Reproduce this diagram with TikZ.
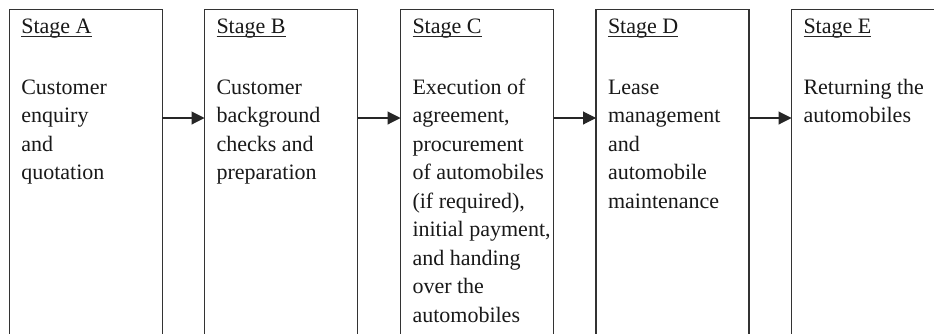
\documentclass[tikz,border=0pt]{standalone}
\usepackage{fontspec}
\setmainfont{Liberation Serif}
\usetikzlibrary{arrows.meta}
\begin{document}
\begin{tikzpicture}[x=0.75pt,y=-0.75pt,
  stagebox/.style={rectangle,draw=none,minimum width=153*0.75pt,minimum height=326*0.75pt,inner sep=0pt,outer sep=0pt},
  boxline/.style={draw=black!80,line width=0.8pt},
  stagetitle/.style={anchor=base west,inner sep=0pt,outer sep=0pt,text=black!90,font=\fontsize{16.5}{21.4}\selectfont},
  stagetext/.style={anchor=base west,inner sep=0pt,outer sep=0pt,align=left,text=black!90,font=\fontsize{16.5}{21.375}\selectfont},
  flow/.style={draw=black!85,line width=0.8pt,-{Triangle[length=9.75pt,width=9.75pt]}},
  uline/.style={draw=black!85,line width=0.6pt}
]
\clip (0,0) rectangle (934,333);
\useasboundingbox (0,0) rectangle (934,333);
\fill[white] (0,0) rectangle (934,333);
\coordinate (ya) at (0,118);
% boxes (open at the bottom)
\foreach \n/\x in {a/9.3,b/204.5,c/400.5,d/596,e/791.5}{
  \node[stagebox] (\n) at (\x+76.5,9.3+163) {};
  \draw[boxline] (\n.south west) -- (\n.north west) -- (\n.north east) -- (\n.south east);
}
% titles
\foreach \n/\l in {a/A,b/B,c/C,d/D,e/E}{
  \node[stagetitle] (t\n) at ([xshift=12*0.75pt,yshift=-24*0.75pt]\n.north west) {Stage \l};
  \draw[uline] ([yshift=-3*0.75pt]t\n.base west) -- ([yshift=-3*0.75pt]t\n.base east);
}
% body texts (anchor = baseline of the last line)
\node[stagetext] (xa) at ([xshift=12*0.75pt,yshift=-170.2*0.75pt]a.north west) {Customer\\enquiry\\and\\quotation};
\node[stagetext] (xb) at ([xshift=12*0.75pt,yshift=-170.2*0.75pt]b.north west) {Customer\\background\\checks and\\preparation};
\node[stagetext] (xc) at ([xshift=12*0.75pt,yshift=-312.7*0.75pt]c.north west) {Execution of\\agreement,\\procurement\\of automobiles\\(if required),\\initial payment,\\and handing\\over the\\automobiles};
\node[stagetext] (xd) at ([xshift=12*0.75pt,yshift=-198.7*0.75pt]d.north west) {Lease\\management\\and\\automobile\\maintenance};
\node[stagetext] (xe) at ([xshift=12*0.75pt,yshift=-113.2*0.75pt]e.north west) {Returning the\\automobiles};
% arrows
\draw[flow] (a.east |- ya) -- (b.west |- ya);
\draw[flow] (b.east |- ya) -- (c.west |- ya);
\draw[flow] (c.east |- ya) -- (d.west |- ya);
\draw[flow] (d.east |- ya) -- (e.west |- ya);
\end{tikzpicture}
\end{document}
